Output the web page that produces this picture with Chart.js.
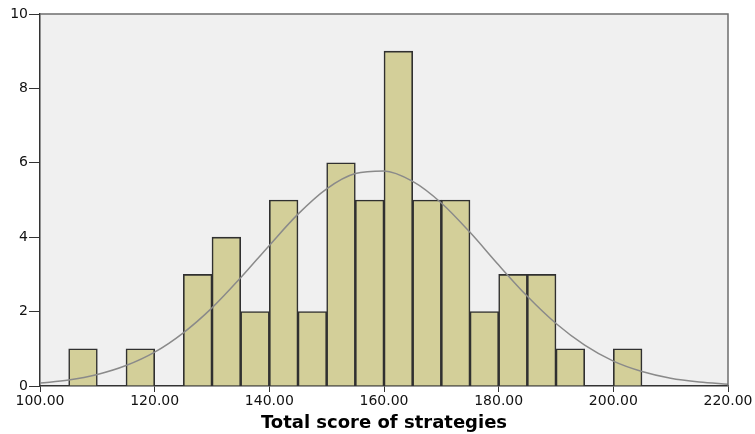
<!DOCTYPE html>
<html>
<head>
<meta charset="utf-8">
<script src="https://cdn.jsdelivr.net/npm/chart.js@4"></script>
<style>
  html, body { margin: 0; padding: 0; background: #ffffff; }
  #wrap { width: 755px; height: 434px; }
</style>
</head>
<body>
<div id="wrap"><canvas id="histChart" width="755" height="434"></canvas></div>
<script>
// bin centres (width 5) and counts
const binCenters = [107.5, 112.5, 117.5, 122.5, 127.5, 132.5, 137.5, 142.5, 147.5, 152.5,
                    157.5, 162.5, 167.5, 172.5, 177.5, 182.5, 187.5, 192.5, 197.5, 202.5];
const counts = [1, null, 1, null, 3, 4, 2, 5, 2, 6, 5, 9, 5, 5, 2, 3, 3, 1, null, 1];

// normal curve overlay, heights
const curveX = [100, 105, 110, 115, 120, 125, 130, 135, 140, 145, 150, 155, 160,
                165, 170, 175, 180, 185, 190, 195, 200, 205, 210, 215, 220];
const curveY = [0.08, 0.16, 0.31, 0.55, 0.91, 1.43, 2.1, 2.91, 3.78, 4.62, 5.3, 5.71, 5.78,
                5.5, 4.92, 4.13, 3.25, 2.41, 1.68, 1.1, 0.67, 0.39, 0.21, 0.11, 0.05];

const xTickValues = [100, 120, 140, 160, 180, 200, 220];
const yTickValues = [0, 2, 4, 6, 8, 10];
const xTitle = "Total score of strategies";

const plotFrame = {
  id: "plotFrame",
  beforeInit(chart) {
    chart.ctx.letterSpacing = "1px";
  },
  beforeDraw(chart) {
    const { ctx, chartArea: a } = chart;
    ctx.save();
    ctx.fillStyle = "#f0f0f0";
    ctx.fillRect(a.left, a.top, a.right - a.left, a.bottom - a.top);
    ctx.restore();
  },
  afterDraw(chart) {
    const { ctx, chartArea: a } = chart;
    ctx.save();
    ctx.strokeStyle = "#6e6e6e";
    ctx.lineWidth = 1.5;
    ctx.beginPath();
    ctx.moveTo(a.left, a.top);
    ctx.lineTo(a.right, a.top);
    ctx.lineTo(a.right, a.bottom);
    ctx.stroke();
    ctx.restore();
  }
};

new Chart(document.getElementById("histChart"), {
  type: "bar",
  data: {
    datasets: [
      {
        type: "line",
        data: curveX.map((x, i) => ({ x, y: curveY[i] })),
        borderColor: "#8a8a8a",
        borderWidth: 1.5,
        pointRadius: 0,
        cubicInterpolationMode: "monotone",
        fill: false,
        order: 0
      },
      {
        data: binCenters.map((x, i) => ({ x, y: counts[i] })),
        backgroundColor: "#d3cf99",
        borderColor: "#303030",
        borderWidth: 1.6,
        barPercentage: 1,
        categoryPercentage: 1,
        order: 1
      }
    ]
  },
  options: {
    responsive: false,
    animation: false,
    layout: { padding: { left: 0, top: 14, right: 27, bottom: 0 } },
    plugins: { legend: { display: false }, tooltip: { enabled: false } },
    scales: {
      x: {
        type: "linear",
        offset: false,
        min: xTickValues[0],
        max: xTickValues[xTickValues.length - 1],
        afterFit: (s) => { s.height = 48; },
        afterBuildTicks: (s) => { s.ticks = xTickValues.map((v) => ({ value: v })); },
        ticks: {
          autoSkip: false,
          color: "#111",
          padding: 1,
          maxRotation: 0,
          font: { family: "DejaVu Sans", size: 14 },
          callback: (v) => Number(v).toFixed(2)
        },
        grid: { offset: false, drawOnChartArea: false, drawTicks: true, tickLength: 6, color: "#333" },
        border: { color: "#333", width: 1.5 },
        title: {
          display: true,
          text: xTitle,
          color: "#000",
          font: { family: "DejaVu Sans", size: 18, weight: "bold" },
          padding: { top: 0, bottom: 0 }
        }
      },
      y: {
        min: yTickValues[0],
        max: yTickValues[yTickValues.length - 1],
        afterFit: (s) => { s.width = 40; },
        afterBuildTicks: (s) => { s.ticks = yTickValues.map((v) => ({ value: v })); },
        ticks: {
          autoSkip: false,
          color: "#111",
          padding: 1,
          font: { family: "DejaVu Sans", size: 14 }
        },
        grid: { drawOnChartArea: false, drawTicks: true, tickLength: 11, color: "#333" },
        border: { color: "#333", width: 1.5 }
      }
    }
  },
  plugins: [plotFrame]
});
</script>
</body>
</html>
